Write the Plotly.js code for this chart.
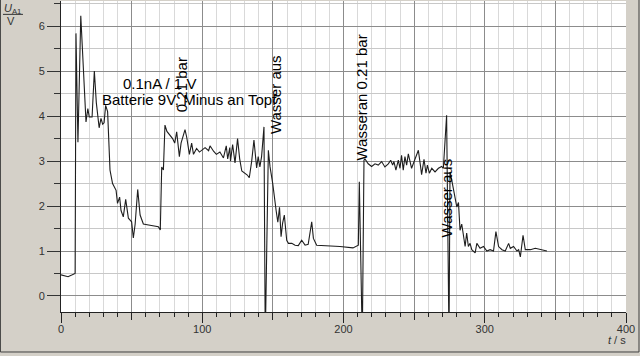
<!DOCTYPE html>
<html>
<head>
<meta charset="utf-8">
<script src="https://cdn.plot.ly/plotly-3.0.1.min.js"></script>
<style>
html,body{margin:0;padding:0;background:#d4d0c8;}
#chart{width:640px;height:356px;}
</style>
</head>
<body>
<div id="chart"></div>
<script>
// time in seconds
const timeS = [
  0, 2, 5, 8, 10, 10.6, 12, 14, 17.7, 19, 20, 22, 23.6, 25, 27, 28.3, 29.5, 30.5, 31.6, 33,
  34.7, 36.5, 38, 39, 40, 41.5, 42.5, 44.1, 45.8, 47.7, 50, 51.2, 52.5, 54.3, 56, 58.3, 62, 66, 68.9, 70.3,
  71.3, 72.5, 73.6, 75, 77, 79, 80.5, 81.9, 83.8, 85, 87.8, 89, 90.9, 92.5, 93.8, 96, 98, 99.5, 102, 104.5,
  105.5, 108, 110, 112.5, 115, 117, 118, 119.5, 120, 121.5, 123.2, 125, 126.5, 128, 130, 131.9, 133.3, 135, 136.6, 138.5,
  139.6, 140.8, 142, 143.7, 144.6, 146.8, 148, 149.9, 152.3, 153.5, 154.7, 155.8, 156.9, 158.1, 159.8, 161, 163.4, 165.7, 168, 170.4,
  172.8, 175, 177.5, 178.7, 181, 188, 197.5, 206.7, 210.5, 211.2, 213.3, 214.5, 215.2, 217.5, 219.9, 222.3, 224.6, 227, 229.3, 231.7,
  233.4, 234.8, 235.7, 237.1, 238.8, 240, 241.1, 242.3, 243.5, 244.7, 245.9, 248.2, 250.6, 253, 254.6, 255.3, 257, 258.4, 259.4, 260.8,
  262.5, 264.8, 267.2, 269.5, 270.7, 273, 274.7, 275.4, 276.6, 279, 280.2, 281.4, 282.5, 283.7, 284.9, 286.1, 287.2, 288.4, 289.6, 290.8,
  293.2, 294.4, 296.7, 299.1, 301.5, 303.8, 306.2, 307.9, 309.8, 312.2, 314.5, 316.9, 318.1, 320.4, 322.8, 324, 325.2, 327.1, 328.7, 332.3,
  335.8, 339.3, 344
];
// voltage U_A1 in V
const voltageV = [
  0.47, 0.46, 0.43, 0.47, 0.50, 5.84, 3.42, 6.23, 3.87, 4.17, 3.98, 3.98, 5.0, 4.3, 3.74, 3.95, 3.82, 3.85, 4.24, 4.1,
  2.8, 2.5, 2.4, 2.35, 2.06, 2.2, 1.9, 1.76, 2.15, 1.73, 1.65, 1.29, 1.6, 2.37, 1.8, 1.6, 1.58, 1.56, 1.54, 1.47,
  2.87, 2.8, 3.8, 3.66, 3.58, 3.5, 3.4, 3.65, 3.1, 3.4, 3.7, 3.53, 3.15, 3.4, 3.15, 3.28, 3.2, 3.24, 3.3, 3.23,
  3.34, 3.22, 3.15, 3.2, 3.07, 3.34, 3.05, 3.3, 3.0, 3.37, 2.96, 3.5, 3.05, 2.78, 2.74, 2.69, 2.63, 3.0, 3.47, 2.85,
  3.1, 2.87, 3.1, 3.76, -1.0, 3.24, 2.87, 2.5, 1.9, 1.64, 1.97, 1.32, 1.62, 1.8, 1.24, 1.17, 1.17, 1.13, 1.12, 1.24,
  1.13, 1.15, 1.65, 1.28, 1.13, 1.12, 1.1, 1.07, 1.13, 2.54, -1.0, 3.02, 3.05, 2.94, 2.88, 2.94, 2.91, 2.99, 2.87, 2.94,
  3.02, 2.91, 2.99, 2.8, 3.02, 2.84, 3.13, 2.8, 3.1, 2.91, 3.16, 2.84, 3.05, 3.24, 2.87, 2.7, 3.04, 2.73, 2.91, 2.73,
  2.84, 2.76, 2.84, 2.88, 2.84, 4.02, -1.0, 2.76, 2.58, 2.13, 1.98, 2.08, 1.46, 1.6, 1.31, 1.1, 1.4, 1.1, 1.17, 1.03,
  0.96, 1.17, 1.06, 1.1, 1.0, 1.03, 1.0, 1.43, 1.1, 1.03, 1.0, 1.17, 1.06, 1.1, 1.0, 1.03, 0.87, 1.35, 1.03, 1.03,
  1.06, 1.03, 1.0
];

const xLabelTickVals = [0, 100, 200, 300, 400];

// annotation texts with their anchor (t, U) positions
const noteTexts = ['0.1nA / 1 V', 'Batterie 9V, Minus an Topf', '0.21 bar', 'Wasser aus', 'Wasseran 0.21 bar', 'Wasser aus'];
const noteT = [42.5, 27.6, 85, 151.5, 213, 272.6];
const noteU = [4.73, 4.36, 4.69, 4.49, 4.41, 2.17];
const noteAngle = [0, 0, -90, -90, -90, -90];
const noteAnchor = ['left', 'left', 'center', 'center', 'center', 'center'];

const font = 'Liberation Sans, Arial, sans-serif';

const annotations = noteTexts.map((txt, i) => ({
  text: txt, x: noteT[i], y: noteU[i], xref: 'x', yref: 'y',
  textangle: noteAngle[i], xanchor: noteAnchor[i], yanchor: 'middle',
  showarrow: false, font: {family: font, size: 15, color: '#000'}
}));
annotations.push(
  {text: '<i>U</i><sub>A1</sub>', xref: 'paper', yref: 'paper', x: -0.085, y: 0.975,
   xanchor: 'center', yanchor: 'middle', showarrow: false, font: {family: font, size: 11, color: '#333'}},
  {text: 'V', xref: 'paper', yref: 'paper', x: -0.088, y: 0.935,
   xanchor: 'center', yanchor: 'middle', showarrow: false, font: {family: font, size: 11, color: '#333'}},
  {text: '<i>t</i> / s', xref: 'paper', yref: 'paper', x: 0.984, y: -0.09,
   xanchor: 'center', yanchor: 'middle', showarrow: false, font: {family: font, size: 11, color: '#333'}}
);

const data = [
  {x: timeS, y: voltageV, type: 'scatter', mode: 'lines',
   line: {color: '#1e1e1e', width: 1.1}, hoverinfo: 'skip', cliponaxis: true},
  {x: [], y: [], xaxis: 'x2', type: 'scatter', mode: 'lines', hoverinfo: 'skip', showlegend: false}
];

const layout = {
  width: 640, height: 356,
  margin: {l: 61, r: 14, t: 1, b: 44, pad: 0},
  paper_bgcolor: '#d4d0c8', plot_bgcolor: '#ffffff',
  showlegend: false,
  font: {family: font, size: 11, color: '#333'},
  xaxis: {
    range: [0, 400], tickmode: 'linear', tick0: 0, dtick: 50, ticklabelstep: 2,
    ticks: 'outside', ticklen: 7, tickwidth: 1, tickcolor: '#222',
    showgrid: true, gridcolor: '#8c8c8c', gridwidth: 1,
    showline: true, linecolor: '#222', linewidth: 1, zeroline: false,
    tickfont: {family: font, size: 11, color: '#333'},
    minor: {dtick: 10, tick0: 0, ticks: 'outside', ticklen: 4, tickcolor: '#222',
            showgrid: true, gridcolor: '#d9d9d9', gridwidth: 1}
  },
  xaxis2: {
    range: [0, 400], overlaying: 'x', anchor: 'y', side: 'bottom',
    tickmode: 'array', tickvals: xLabelTickVals, showticklabels: false,
    ticks: 'outside', ticklen: 10, tickcolor: '#222', showgrid: false, zeroline: false, showline: false
  },
  yaxis: {
    range: [-0.356, 6.56], tick0: 0, dtick: 1,
    ticks: 'outside', ticklen: 13, tickwidth: 1, tickcolor: '#333',
    showgrid: true, gridcolor: '#8c8c8c', gridwidth: 1,
    showline: true, linecolor: '#222', linewidth: 1, zeroline: false,
    tickfont: {family: font, size: 11, color: '#333'},
    minor: {dtick: 0.5, tick0: 0, ticks: 'outside', ticklen: 6, tickcolor: '#333',
            showgrid: true, gridcolor: '#c8c8c8', gridwidth: 1}
  },
  shapes: [
    {type: 'line', xref: 'paper', yref: 'paper', x0: -0.1027, x1: -0.0673, y0: 0.957, y1: 0.957,
     line: {color: '#333', width: 1}},
    {type: 'rect', xref: 'paper', yref: 'paper', x0: -0.1072, x1: 1.0230, y0: -0.1286, y1: 1.01,
     line: {color: '#404040', width: 1}, fillcolor: 'rgba(0,0,0,0)', layer: 'below'}
  ],
  annotations: annotations
};

Plotly.newPlot('chart', data, layout, {staticPlot: true, displayModeBar: false});
</script>
</body>
</html>
